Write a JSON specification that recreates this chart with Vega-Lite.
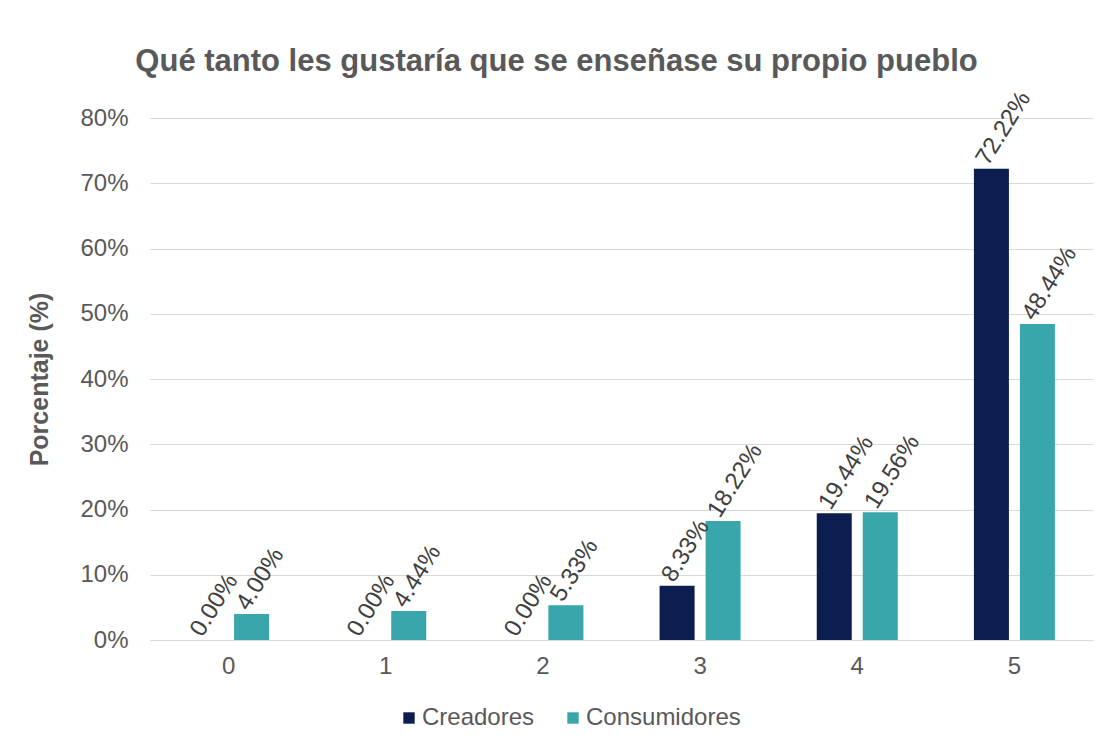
{
  "$schema": "https://vega.github.io/schema/vega-lite/v6.json",
  "autosize": {"type": "none"},
  "width": 943,
  "height": 522,
  "padding": {"left": 150, "top": 118, "right": 19, "bottom": 109},
  "background": "white",
  "config": {
    "font": "Liberation Sans",
    "view": {"stroke": null}
  },
  "title": {
    "text": "Qué tanto les gustaría que se enseñase su propio pueblo",
    "fontSize": 31,
    "fontWeight": "bold",
    "color": "#595959",
    "anchor": "middle",
    "dx": -65,
    "dy": 20,
    "offset": 30
  },
  "data": {
    "values": [
      {"nivel": "0", "grupo": "Creadores", "valor": 0},
      {"nivel": "0", "grupo": "Consumidores", "valor": 0.04},
      {"nivel": "1", "grupo": "Creadores", "valor": 0},
      {"nivel": "1", "grupo": "Consumidores", "valor": 0.0444},
      {"nivel": "2", "grupo": "Creadores", "valor": 0},
      {"nivel": "2", "grupo": "Consumidores", "valor": 0.0533},
      {"nivel": "3", "grupo": "Creadores", "valor": 0.0833},
      {"nivel": "3", "grupo": "Consumidores", "valor": 0.1822},
      {"nivel": "4", "grupo": "Creadores", "valor": 0.1944},
      {"nivel": "4", "grupo": "Consumidores", "valor": 0.1956},
      {"nivel": "5", "grupo": "Creadores", "valor": 0.7222},
      {"nivel": "5", "grupo": "Consumidores", "valor": 0.4844}
    ]
  },
  "encoding": {
    "x": {
      "field": "nivel",
      "type": "nominal",
      "scale": {"paddingInner": 0, "paddingOuter": 0},
      "axis": {
        "title": null,
        "labelAngle": 0,
        "labelFontSize": 24,
        "labelColor": "#595959",
        "labelPadding": 14,
        "ticks": false,
        "domainColor": "#d9d9d9",
        "domainWidth": 1
      }
    },
    "xOffset": {
      "field": "grupo",
      "type": "nominal",
      "sort": ["Creadores", "Consumidores"],
      "scale": {"paddingInner": 0.239, "paddingOuter": 0.828}
    },
    "y": {
      "field": "valor",
      "type": "quantitative",
      "scale": {"domain": [0, 0.8], "nice": false},
      "axis": {
        "title": "Porcentaje (%)",
        "titleFontSize": 25,
        "titleFontWeight": "bold",
        "titleColor": "#595959",
        "titlePadding": 27,
        "format": ".0%",
        "values": [0, 0.1, 0.2, 0.3, 0.4, 0.5, 0.6, 0.7, 0.8],
        "labelFontSize": 24,
        "labelColor": "#595959",
        "labelPadding": 22,
        "ticks": false,
        "domain": false,
        "gridColor": "#d9d9d9",
        "gridWidth": 1
      }
    }
  },
  "layer": [
    {
      "mark": {"type": "bar"},
      "encoding": {
        "color": {
          "field": "grupo",
          "type": "nominal",
          "sort": ["Creadores", "Consumidores"],
          "scale": {"domain": ["Creadores", "Consumidores"], "range": ["#0c1e4f", "#38a6aa"]},
          "legend": {
            "title": null,
            "orient": "none",
            "direction": "horizontal",
            "legendX": 247,
            "legendY": 588,
            "symbolType": "square",
            "symbolSize": 130,
            "symbolStrokeWidth": 0,
            "labelFontSize": 24,
            "labelColor": "#595959",
            "labelOffset": 1,
            "columnPadding": 26
          }
        }
      }
    },
    {
      "mark": {"type": "text", "angle": -58, "align": "left", "baseline": "middle", "dx": 0, "dy": -11, "fontSize": 24, "color": "#404040"},
      "encoding": {
        "text": {"field": "valor", "type": "quantitative", "format": ".2%"}
      }
    }
  ]
}
